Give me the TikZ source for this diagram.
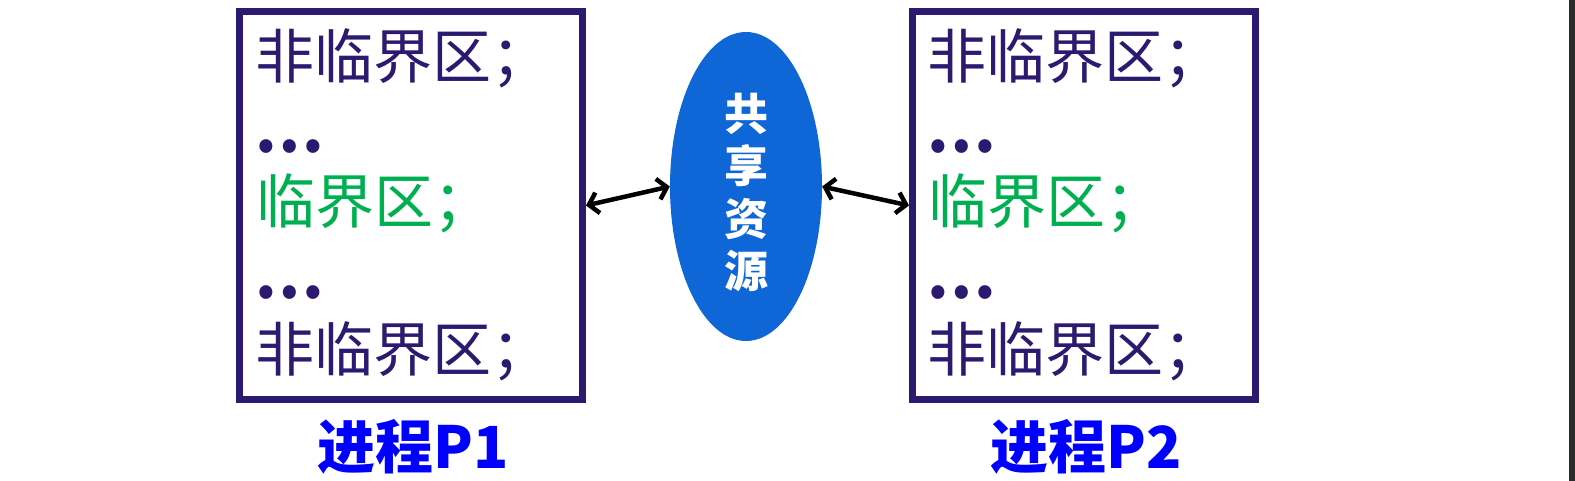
\documentclass[tikz,border=0pt]{standalone}
\usepackage{fontspec}
\newfontfamily\cjk{Noto Sans CJK SC}
\usetikzlibrary{shapes.geometric,arrows.meta}
\definecolor{navy}{HTML}{2B1A70}
\definecolor{grn}{HTML}{00B050}
\definecolor{resblue}{HTML}{0F66D6}
\definecolor{lblblue}{HTML}{0000FF}
\definecolor{strip}{HTML}{2B2B2B}
\tikzset{
  procbox/.style={draw=navy, line width=7pt, minimum width=343pt, minimum height=388pt, inner sep=0pt},
  line/.style={anchor=west, inner sep=0pt, font=\cjk\fontsize{59}{59}\selectfont, text=navy},
  dots/.style={anchor=west, inner sep=0pt, font=\cjk\bfseries\fontsize{62}{62}\selectfont, text=navy},
  crit/.style={line, text=grn},
  res/.style={ellipse, fill=resblue, minimum width=152pt, minimum height=309pt, inner sep=0pt},
  restext/.style={inner sep=0pt, text=white, align=center, font=\cjk\bfseries\fontsize{44}{52.3}\selectfont},
  plabel/.style={inner sep=0pt, text=lblblue, font=\cjk\bfseries\fontsize{58}{58}\selectfont},
  link/.style={{Straight Barb[length=9pt,width=21pt]}-{Straight Barb[length=9pt,width=21pt]}, line width=4.5pt, black}
}
\begin{document}
\begin{tikzpicture}[x=1pt,y=-1pt]
\useasboundingbox (0,0) rectangle (1575,481);
\fill[white] (0,0) rectangle (1575,481);
\fill[strip] (1569,0) rectangle (1575,481);
% boxes
\node[procbox] (p1) at (411,205.5) {};
\node[procbox] (p2) at (1084,205.5) {};
% left lines
\node[line] (l1) at (255,58) {非临界区；};
\node[dots] (l2) at (254,147) {…};
\node[crit] (l3) at (256,203) {临界区；};
\node[dots] (l4) at (254,293) {…};
\node[line] (l5) at (255,351) {非临界区；};
% right lines
\node[line] (r1) at (927,58) {非临界区；};
\node[dots] (r2) at (926,147) {…};
\node[crit] (r3) at (928,203) {临界区；};
\node[dots] (r4) at (926,293) {…};
\node[line] (r5) at (927,351) {非临界区；};
% shared resource
\node[res] (res) at (746,186.5) {};
\node[restext] (rest) at (746,192.5) {共\\享\\资\\源};
% labels
\node[plabel] (lab1) at (413,447) {进程P1};
\node[plabel] (lab2) at (1086,447) {进程P2};
% connectors
\draw[link] (p1.east) -- (res.west);
\draw[link] (res.east) -- (p2.west);
\end{tikzpicture}
\end{document}
